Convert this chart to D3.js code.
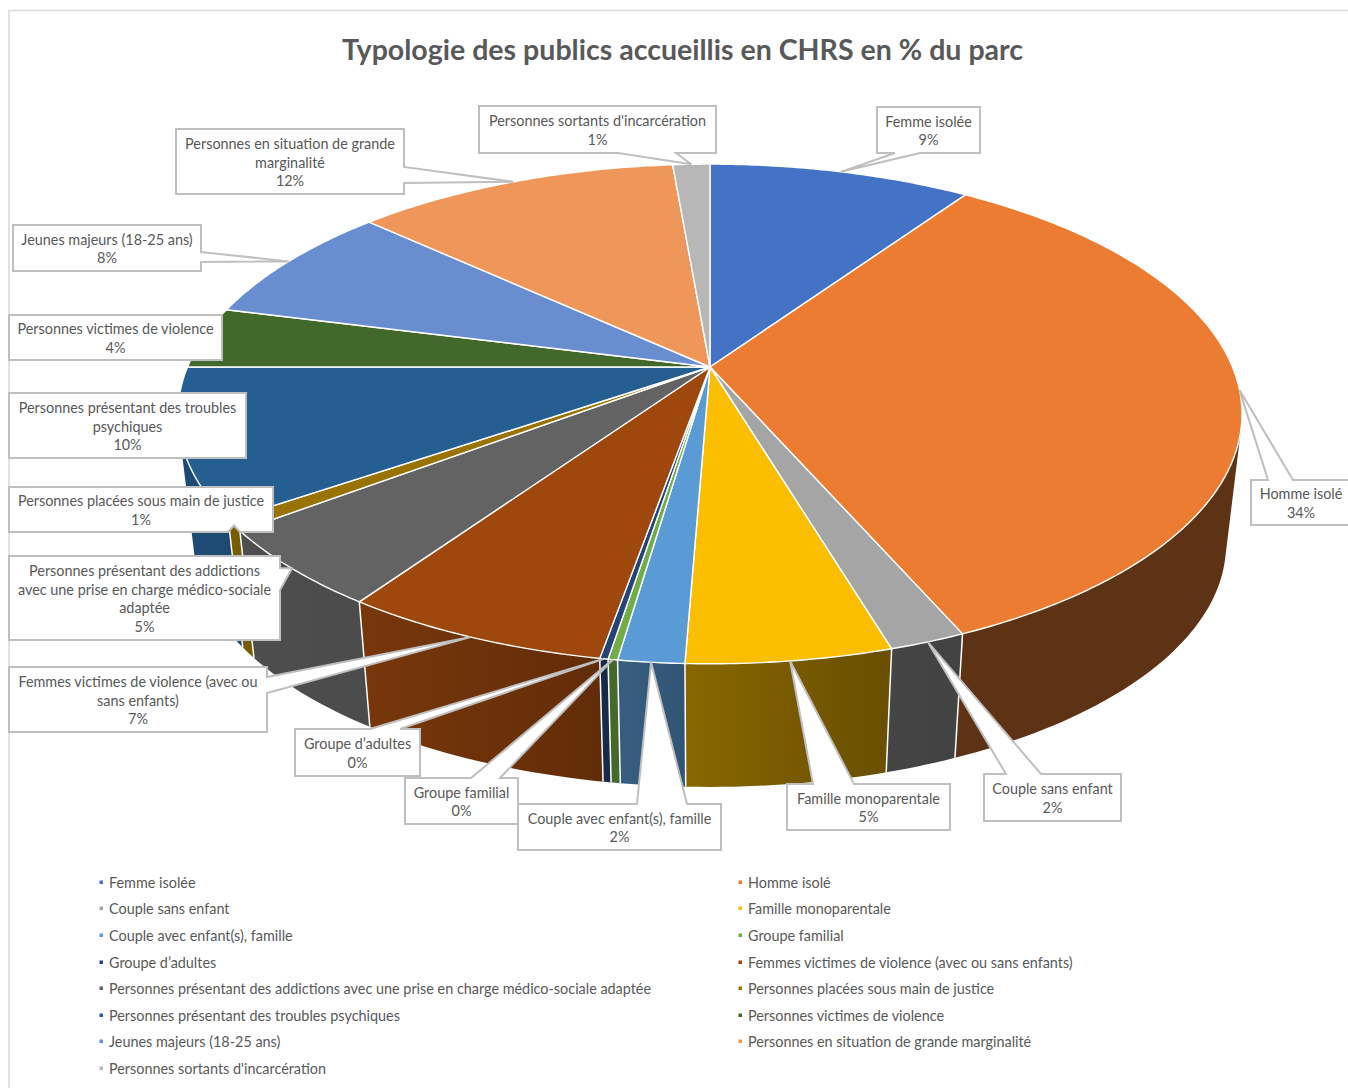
<!DOCTYPE html>
<html lang="fr">
<head>
<meta charset="utf-8">
<script src="https://cdn.jsdelivr.net/npm/d3@7"></script>
<style>
html,body{margin:0;padding:0;background:#fff;overflow:hidden}
svg{display:block}
text{font-family:Lato,"Open Sans",sans-serif}
</style>
</head>
<body>
<svg id="c" width="1348" height="1088"></svg>
<script>
const titleText = "Typologie des publics accueillis en CHRS en % du parc";
const categories = ["Femme isolée","Homme isolé","Couple sans enfant","Famille monoparentale","Couple avec enfant(s), famille","Groupe familial","Groupe d’adultes","Femmes victimes de violence (avec ou sans enfants)","Personnes présentant des addictions avec une prise en charge médico-sociale adaptée","Personnes placées sous main de justice","Personnes présentant des troubles psychiques","Personnes victimes de violence","Jeunes majeurs (18-25 ans)","Personnes en situation de grande marginalité","Personnes sortants d'incarcération"];
const values = [9.55,33.9,1.95,5.22,1.68,0.24,0.21,6.85,5.1,0.7,9.6,4.0,7.85,11.8,1.35];
const percentLabels = ["9%","34%","2%","5%","2%","0%","0%","7%","5%","1%","10%","4%","8%","12%","1%"];
const colors = ["#4472C4","#EB7C31","#A5A5A5","#FBBE00","#5B9BD5","#70AD47","#264478","#9E480E","#636363","#997300","#255E91","#43682B","#698ED0","#EF965A","#B7B7B7"];
const calloutLines = [
 ["Femme isolée"],["Homme isolé"],["Couple sans enfant"],["Famille monoparentale"],["Couple avec enfant(s), famille"],["Groupe familial"],["Groupe d’adultes"],
 ["Femmes victimes de violence (avec ou","sans enfants)"],
 ["Personnes présentant des addictions","avec une prise en charge médico-sociale","adaptée"],
 ["Personnes placées sous main de justice"],
 ["Personnes présentant des troubles","psychiques"],
 ["Personnes victimes de violence"],["Jeunes majeurs (18-25 ans)"],
 ["Personnes en situation de grande","marginalité"],
 ["Personnes sortants d'incarcération"]];
// callout box: x0,y0,x1,y1, pointer side and base span on that side
const calloutBoxes = [
 [877,107,980,153,"b",895,920],
 [1251,480,1349,525,"t",1268,1293],
 [984,774,1121,821,"t",1006,1041],
 [787,784,950,830,"t",813,854],
 [518,804,721,850,"t",637,687],
 [405,778,518,824,"t",471,500],
 [295,729,420,776,"t",370,400],
 [9,667,267,732,"r",677,693],
 [9,556,280,640,"r",568,590],
 [9,487,273,532,"b",228,240],
 [9,393,246,458,null,0,0],
 [9,315,222,360,null,0,0],
 [13,225,201,271,"r",252,262],
 [176,129,404,194,"r",167,183],
 [479,106,716,153,"b",618,676]];
const legendColumns = [101,740];
const legendRows = [882,908,935,962,988,1015,1041,1068];

// pie plane → screen (perspective view of a disc)
const cx=710, cyTop=367, cyBot=499, persp=0.188, rx=522.5, ry=241, botScale=0.97;
function proj(angle, r, bottom){
  const x=Math.sin(angle)*r, y=-Math.cos(angle)*r, w=1-persp*y;
  const s=bottom?botScale:1;
  return [cx+s*rx*x/w, (bottom?cyBot:cyTop)+s*ry*y/w];
}
const shade=d3.scaleLinear().domain([190,360,600,690,880,960,1300]).range([.8,.76,.62,.54,.42,.4,.4]).clamp(true);
const dim=(c,k)=>{const o=d3.rgb(c);return d3.rgb(o.r*k,o.g*k,o.b*k).formatHex();};

const svg=d3.select("#c");
const defs=svg.append("defs");
const line=d3.line();
const arcs=d3.pie().sort(null).value(d=>d)(values);

// frame
svg.append("path").attr("d",line([[9,1088],[9,10.5],[1348,10.5]])).attr("fill","none").attr("stroke","#d9d9d9").attr("stroke-width",1.5);

svg.append("text").attr("x",682.5).attr("y",60).attr("text-anchor","middle")
 .attr("font-size",28.55).attr("font-weight",700).attr("fill","#595959").text(titleText);

// walls
const wallG=svg.append("g");
arcs.forEach((a,i)=>{
  const samples=d3.range(0,1.0001,1/Math.max(4,Math.ceil((a.endAngle-a.startAngle)/0.02)))
      .map(t=>a.startAngle+t*(a.endAngle-a.startAngle));
  const tops=samples.map(t=>proj(t,1,false)), bots=samples.map(t=>proj(t,1,true));
  const xs=tops.concat(bots).map(p=>p[0]);
  const x0=d3.min(xs), x1=d3.max(xs), id="w"+i;
  const g=defs.append("linearGradient").attr("id",id).attr("gradientUnits","userSpaceOnUse")
     .attr("x1",x0).attr("x2",x1+0.01).attr("y1",0).attr("y2",0);
  d3.range(0,1.001,.2).forEach(t=>g.append("stop").attr("offset",t).attr("stop-color",dim(colors[i],shade(x0+t*(x1-x0)))));
  const quads=d3.pairs(d3.range(samples.length)).map(([p,q])=>{
    const poly=[tops[p],tops[q],bots[q],bots[p]];
    return line(d3.polygonArea(poly)<0?poly.reverse():poly)+"Z";
  });
  wallG.append("path").attr("d",quads.join("")).attr("fill",`url(#${id})`).attr("fill-rule","nonzero");
});
arcs.forEach(a=>{
  wallG.append("path").attr("d",line([proj(a.startAngle,1,false),proj(a.startAngle,1,true)]))
    .attr("stroke","#fff").attr("stroke-width",1.5).attr("fill","none");
});

// top surface
const topG=svg.append("g");
arcs.forEach((a,i)=>{
  const n=Math.max(4,Math.ceil((a.endAngle-a.startAngle)/0.01));
  const rim=d3.range(n+1).map(k=>proj(a.startAngle+(a.endAngle-a.startAngle)*k/n,1,false));
  topG.append("path").attr("d",line([[cx,cyTop],...rim])+"Z")
    .attr("fill",colors[i]).attr("stroke","#fff").attr("stroke-width",1.4).attr("stroke-linejoin","round");
});

// callouts
const cg=svg.append("g");
arcs.forEach((a,i)=>{
  const [x0,y0,x1,y1,side,b0,b1]=calloutBoxes[i];
  const tip=proj((a.startAngle+a.endAngle)/2,1,false);
  const pts=[[x0,y0]];
  if(side==="t") pts.push([b0,y0],tip,[b1,y0]);
  pts.push([x1,y0]);
  if(side==="r") pts.push([x1,b0],tip,[x1,b1]);
  pts.push([x1,y1]);
  if(side==="b") pts.push([b1,y1],tip,[b0,y1]);
  pts.push([x0,y1]);
  cg.append("path").attr("d",line(pts)+"Z").attr("fill","#fff").attr("stroke","#bfbfbf").attr("stroke-width",2).attr("stroke-linejoin","miter");
  const lines=calloutLines[i].concat(percentLabels[i]);
  const mid=(x0+x1)/2+(i===1?1:0), h=18.7, top=(y0+y1)/2-(lines.length-1)*h/2+6;
  lines.forEach((s,k)=>cg.append("text").attr("x",mid).attr("y",top+k*h).attr("text-anchor","middle")
     .attr("font-size",14.4).attr("fill","#595959").text(s));
});

// legend
const lg=svg.append("g");
categories.forEach((c,i)=>{
  const col=legendColumns[i%2], row=legendRows[Math.floor(i/2)];
  lg.append("rect").attr("x",col-1.5).attr("y",row-1.5).attr("width",3.5).attr("height",3.5).attr("fill",colors[i]);
  lg.append("text").attr("x",col+8).attr("y",row+5.5).attr("font-size",14.4).attr("fill","#595959").text(c);
});
</script>
</body>
</html>
